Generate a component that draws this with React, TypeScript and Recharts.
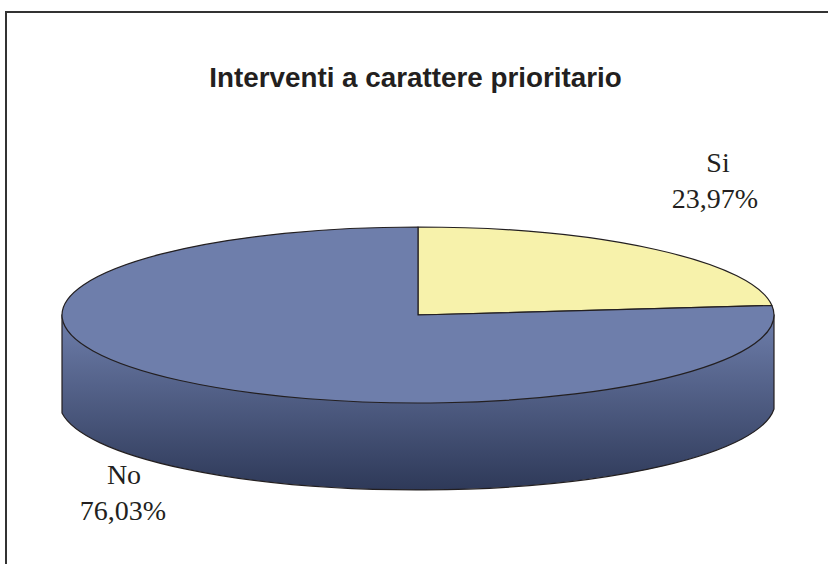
import React from 'react';
import { PieChart, Pie, Cell } from 'recharts';

const categories = ['Si', 'No'];
const shares = [23.97, 76.03];

const data = categories.map((name, i) => ({ name, value: shares[i] }));

const WIDTH = 828;
const HEIGHT = 564;
const CX = 418;
const CY = 315;
const RADIUS = 356;
const SQUASH = 88 / 356;
const DEPTH = 89;

const COLORS = ['#f7f2ab', '#6e7eab'];
const INK = '#231f20';

// label anchors relative to the pie centre
const LABEL_OFFSET: Record<string, { dx: number; dy: number }> = {
  Si: { dx: 297, dy: -143 },
  No: { dx: -295, dy: 169 },
};

const RAD = Math.PI / 180;

// the tilted pie foreshortens a bit, so slice edges drift upward near the rim
const tilt = (deg: number) => deg + 2.5 * Math.cos(deg * RAD);

const rimPoint = (cx: number, cy: number, r: number, deg: number) => {
  const a = tilt(deg) * RAD;
  return [cx + r * Math.cos(a), cy - r * SQUASH * Math.sin(a)];
};

const Slice = (props: any) => {
  const { cx, cy, outerRadius: r, startAngle, endAngle, fill, name, payload } = props;
  const ry = r * SQUASH;
  const [sx, sy] = rimPoint(cx, cy, r, startAngle);
  const [ex, ey] = rimPoint(cx, cy, r, endAngle);
  const large = Math.abs(startAngle - endAngle) > 180 ? 1 : 0;
  const top = `M${cx},${cy} L${sx},${sy} A${r},${ry} 0 ${large} 1 ${ex},${ey} Z`;
  const label = name ?? payload?.name;

  return (
    <g>
      {label === 'No' && (
        <path
          d={`M${cx - r},${cy} L${cx - r},${cy + DEPTH + 9} A${r + 2},${ry} 0 0 0 ${cx + r},${cy + DEPTH + 5} L${cx + r},${cy} Z`}
          fill="url(#wallFill)"
          stroke={INK}
          strokeWidth={1.2}
        />
      )}
      <path d={top} fill={fill} stroke={INK} strokeWidth={1.2} strokeLinejoin="round" />
    </g>
  );
};

const SliceLabel = (props: any) => {
  const { cx, cy, name, value } = props;
  const offset = LABEL_OFFSET[name];
  const text = `${Number(value).toFixed(2).replace('.', ',')}%`;
  return (
    <text
      x={cx + offset.dx}
      y={cy + offset.dy}
      textAnchor="middle"
      fontFamily="Liberation Serif"
      fontSize={28}
      fill={INK}
    >
      <tspan x={cx + offset.dx + (name === 'Si' ? 3 : 1)} dy={0}>{name}</tspan>
      <tspan x={cx + offset.dx} dy={35.5}>{text}</tspan>
    </text>
  );
};

const App = () => {
  return (
    <div style={{ position: 'absolute', left: 0, top: 0, width: WIDTH, height: HEIGHT, background: '#fff', overflow: 'hidden' }}>
      <div
        style={{
          position: 'absolute',
          left: 5,
          top: 11,
          width: WIDTH,
          height: HEIGHT,
          borderLeft: '2px solid #333',
          borderTop: '2px solid #333',
        }}
      />
      <div style={{ position: 'absolute', left: 0, top: 0 }}>
        <PieChart width={WIDTH} height={HEIGHT} margin={{ top: 0, right: 0, bottom: 0, left: 0 }}>
          <defs>
            <linearGradient id="wallFill" gradientUnits="userSpaceOnUse" x1="0" y1={CY} x2="0" y2={CY + DEPTH * 2}>
              <stop offset="0%" stopColor="#6e7eab" />
              <stop offset="100%" stopColor="#2d3857" />
            </linearGradient>
          </defs>
          <text
            x={415.5}
            y={87}
            textAnchor="middle"
            fontFamily="Liberation Sans"
            fontWeight="bold"
            fontSize={27.8}
            fill={INK}
          >
            Interventi a carattere prioritario
          </text>
          <Pie
            data={data}
            dataKey="value"
            nameKey="name"
            cx={CX}
            cy={CY}
            innerRadius={0}
            outerRadius={RADIUS}
            startAngle={90}
            endAngle={-270}
            paddingAngle={0}
            shape={Slice}
            label={SliceLabel}
            labelLine={false}
            isAnimationActive={false}
          >
            {data.map((d, i) => (
              <Cell key={d.name} fill={COLORS[i]} />
            ))}
          </Pie>
        </PieChart>
      </div>
    </div>
  );
};

export default App;
